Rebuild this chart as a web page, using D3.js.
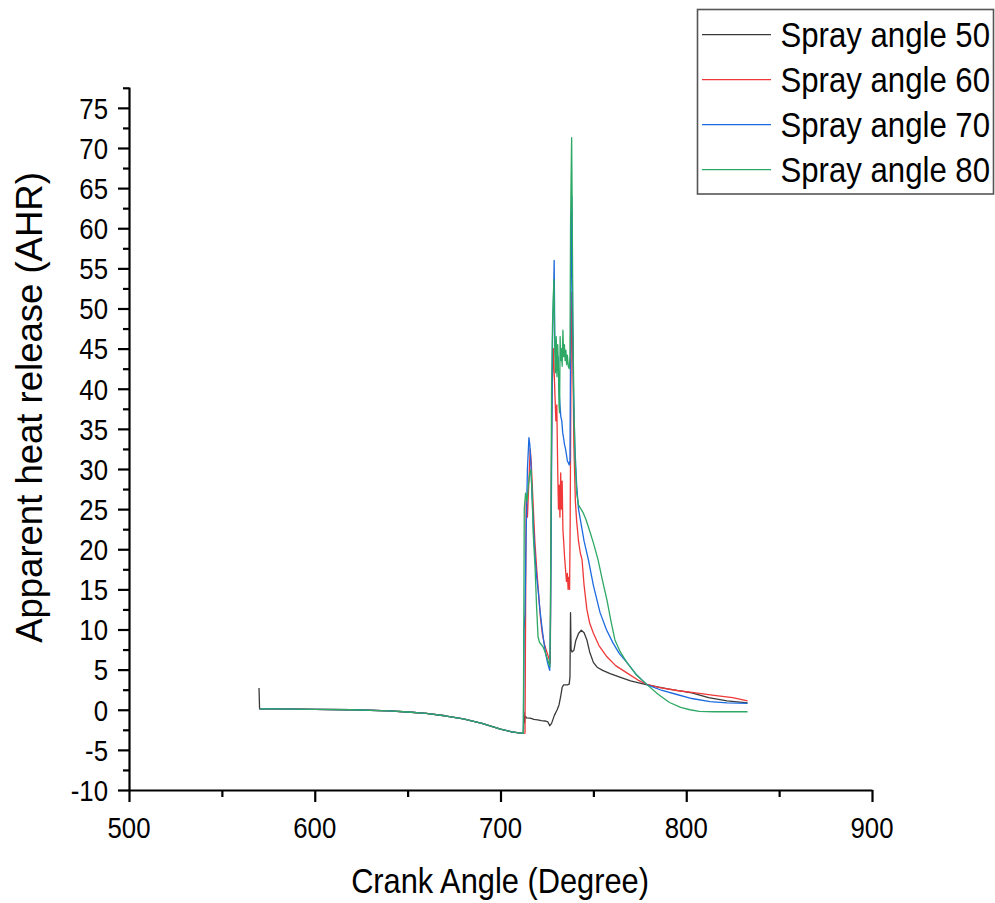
<!DOCTYPE html>
<html>
<head>
<meta charset="utf-8">
<script src="https://cdn.jsdelivr.net/npm/d3@7"></script>
<style>
  html, body { margin: 0; padding: 0; background: #fff; }
  svg { display: block; font-family: "Liberation Sans", Arial, sans-serif; }
</style>
</head>
<body>
<svg id="chart" width="995" height="903"></svg>
<script>
// ---------------- DATA ----------------
const seriesNames = ["Spray angle 50", "Spray angle 60", "Spray angle 70", "Spray angle 80"];
const xTickValues = [500, 600, 700, 800, 900];
const xMinorTicks = [550, 650, 750, 850];
const yTickValues = [-10, -5, 0, 5, 10, 15, 20, 25, 30, 35, 40, 45, 50, 55, 60, 65, 70, 75];
const yMinorTicks = [-7.5, -2.5, 2.5, 7.5, 12.5, 17.5, 22.5, 27.5, 32.5, 37.5, 42.5, 47.5, 52.5, 57.5, 62.5, 67.5, 72.5, 77.5];

// [crank angle, AHR]
const spray50 = [
  [570, 2.7], [570.3, 0.1], [580, 0.1], [600, 0.05], [620, 0.0], [640, -0.15], [650, -0.28],
  [660, -0.45], [670, -0.75], [680, -1.15], [690, -1.7], [700, -2.4], [706, -2.75], [711, -2.9],
  [712.3, -2.95], [712.6, -0.3], [712.9, -1.6], [713.3, -0.8], [714, -1.0], [716, -1.05], [718, -1.2],
  [720, -1.25], [722, -1.35], [724, -1.4], [725.5, -1.5], [726.5, -2.0], [727.5, -1.7], [729, -0.7],
  [730.5, 0.0], [731.5, 0.6], [732.5, 1.8], [733.2, 2.8], [734, 3.1], [736, 3.1], [737, 3.2],
  [737.4, 4.1], [737.7, 12.1], [738, 7.5], [738.5, 7.2], [739.5, 7.4], [740.5, 8.6], [742, 9.5],
  [743.5, 9.9], [745, 9.6], [746.5, 8.7], [748, 7.2], [750, 5.9], [752, 5.3], [755, 4.9], [759, 4.5],
  [765, 4.0], [770, 3.6], [779, 3.1], [790, 2.6], [803, 2.1], [812, 1.5], [822, 1.1], [833, 0.85]
];
const spray60 = [
  [570.3, 0.1], [580, 0.1], [600, 0.05], [620, 0.0], [640, -0.15], [650, -0.28],
  [660, -0.45], [670, -0.75], [680, -1.15], [690, -1.7], [700, -2.4], [706, -2.75], [711, -2.9],
  [712.3, -2.95], [713.2, -2.9], [713.8, 26.5], [714.5, 24], [715.2, 28], [716, 32.5], [716.5, 31],
  [717.5, 26], [718.5, 21], [719.5, 17.5], [720.5, 14.5], [721.5, 11.5], [722.5, 9.5], [723.5, 8.3],
  [724.5, 7.5], [725.5, 6.8], [726.2, 6.3], [726.8, 5.8], [727.3, 28], [727.8, 40], [728.5, 45],
  [729.2, 40], [729.8, 36], [730.3, 38], [730.8, 30], [731.2, 25], [731.6, 28], [732, 24],
  [732.4, 29.5], [732.8, 25], [733.2, 28.5], [733.6, 22.5], [734, 21], [734.5, 19], [735, 17.5],
  [735.5, 16], [736, 17], [736.4, 15], [736.8, 16.5], [737.2, 15], [737.5, 23], [737.9, 40],
  [738.4, 52], [738.9, 45], [739.5, 33], [740.3, 26], [741, 23.5], [742, 21], [743, 19.5],
  [743.9, 18.7], [745, 15.5], [746.5, 12.5], [748, 10.8], [749.9, 9.6], [753, 8.0], [757.3, 6.6],
  [762, 5.5], [768, 4.6], [774, 3.7], [779, 3.15], [785, 2.8], [795, 2.4], [805, 2.1], [815, 1.8],
  [825, 1.5], [833, 1.1]
];
const spray70 = [
  [570.3, 0.1], [580, 0.1], [600, 0.05], [620, 0.0], [640, -0.15], [650, -0.28],
  [660, -0.45], [670, -0.75], [680, -1.15], [690, -1.7], [700, -2.4], [706, -2.75], [711, -2.9],
  [712.3, -2.95], [712.7, 10], [713.2, 12], [713.8, 22], [714.5, 30], [715.3, 33.9], [715.8, 33],
  [716.3, 31], [717, 26.5], [717.8, 22.5], [718.6, 19], [719.5, 16.5], [720.3, 14.8], [721.2, 12.5],
  [722.3, 10.3], [723.3, 8.5], [724.3, 7], [725.2, 6], [726, 5.3], [726.5, 4.9], [727, 12],
  [727.5, 30], [728, 46], [728.6, 52], [728.9, 56], [729.2, 47], [729.6, 44], [730, 46],
  [730.5, 42.5], [731, 44], [731.5, 40], [732, 38], [732.5, 36.5], [733, 36], [733.5, 34.5],
  [734, 33.8], [734.5, 33], [735, 32.5], [735.5, 31.8], [736, 31], [736.5, 30.8], [737, 30.5],
  [737.4, 31], [737.7, 45], [738.1, 58], [738.4, 64], [738.8, 50], [739.3, 40], [740, 33],
  [741, 28], [742, 25], [743.5, 23], [745, 21], [747.3, 18.7], [750, 15.5], [753.6, 12.1],
  [757, 10], [760.6, 8.3], [764, 7], [768, 5.9], [773, 4.4], [779, 3.1], [787, 2.4], [795, 1.9],
  [803, 1.4], [812.8, 1.0], [822, 0.85], [833, 0.8]
];
const spray80 = [
  [570.3, 0.1], [580, 0.1], [600, 0.05], [620, 0.0], [640, -0.15], [650, -0.28],
  [660, -0.45], [670, -0.75], [680, -1.15], [690, -1.7], [700, -2.4], [706, -2.75], [711, -2.9],
  [712.3, -2.95], [712.8, 25], [713.5, 27], [714.3, 26], [715, 28], [715.8, 29.5], [716.4, 29.9],
  [717, 27], [717.6, 22], [718.6, 17.8], [719.4, 13], [720.2, 9.1], [721, 8.4], [722, 8.1],
  [723, 7.8], [724, 7.2], [725, 6.5], [726, 5.8], [726.6, 5.4], [727.1, 20], [727.5, 40],
  [728, 48], [728.5, 52], [728.8, 53.6], [729.2, 45], [729.6, 42], [730, 46.5], [730.4, 41.5],
  [730.8, 45.5], [731.2, 42.3], [731.5, 38], [731.8, 37], [732.1, 46.5], [732.4, 43.5], [732.8, 45],
  [733.2, 42.8], [733.6, 47.3], [734, 44], [734.4, 45.5], [734.8, 43.5], [735.2, 44.8], [735.6, 43],
  [736, 44.2], [736.5, 42.8], [737, 42.5], [737.4, 44], [737.7, 60], [738, 66], [738.3, 71.3],
  [738.6, 62], [739, 48], [739.5, 38], [740.2, 31], [741, 27], [742, 25.5], [744.4, 24.6],
  [746, 23.7], [748, 22.3], [750, 20.8], [752.5, 18.7], [755, 16], [757.3, 13.7], [759.5, 11],
  [761.6, 8.7], [764.5, 7.2], [768, 5.9], [773, 4.4], [779, 3.1], [785, 1.9], [791, 0.9],
  [797, 0.3], [802, 0.0], [807, -0.2], [815, -0.25], [825, -0.25], [833, -0.25]
];
const seriesData = [spray50, spray60, spray70, spray80];
const seriesColors = ["#3a3a3a", "#f03838", "#1c6ae0", "#2ea865"];

// ---------------- LAYOUT ----------------
const svg = d3.select("#chart");
const x = d3.scaleLinear().domain([500, 900]).range([129, 872]);
const y = d3.scaleLinear().domain([-10, 77.6]).range([790, 87]);

// lines
const line = d3.line().x(d => x(d[0])).y(d => y(d[1]));
svg.append("g").selectAll("path")
  .data(seriesData)
  .join("path")
  .attr("d", line)
  .attr("fill", "none")
  .attr("stroke", (d, i) => seriesColors[i])
  .attr("stroke-width", 1.3)
  .attr("stroke-linejoin", "round");

// axes
const yAxisG = svg.append("g").attr("transform", "translate(129,0)");
yAxisG.call(d3.axisLeft(y).tickValues(yTickValues).tickSize(11).tickSizeOuter(0).tickFormat(""));
const yMinorG = svg.append("g").attr("transform", "translate(129,0)");
yMinorG.call(d3.axisLeft(y).tickValues(yMinorTicks).tickSize(6).tickSizeOuter(0).tickFormat(""));
yMinorG.select(".domain").remove();

const xAxisG = svg.append("g").attr("transform", "translate(0,790)");
xAxisG.call(d3.axisBottom(x).tickValues(xTickValues).tickSize(12).tickSizeOuter(0).tickFormat(""));
const xMinorG = svg.append("g").attr("transform", "translate(0,790)");
xMinorG.call(d3.axisBottom(x).tickValues(xMinorTicks).tickSize(7).tickSizeOuter(0).tickFormat(""));
xMinorG.select(".domain").remove();

svg.selectAll(".domain, .tick line").attr("stroke", "#000").attr("stroke-width", 2.2);

// tick labels
const tickFont = 30, tickSX = 0.86;
svg.append("g").selectAll("text").data(yTickValues).join("text")
  .attr("transform", d => `translate(108,${y(d) + 10.8}) scale(${tickSX},1)`)
  .attr("text-anchor", "end")
  .attr("font-size", tickFont)
  .attr("fill", "#000")
  .text(d => d);
svg.append("g").selectAll("text").data(xTickValues).join("text")
  .attr("transform", d => `translate(${x(d)},838) scale(${tickSX},1)`)
  .attr("text-anchor", "middle")
  .attr("font-size", tickFont)
  .attr("fill", "#000")
  .text(d => d);

// axis titles
svg.append("text")
  .attr("transform", "translate(500,893) scale(0.88,1)")
  .attr("text-anchor", "middle")
  .attr("font-size", 35)
  .attr("fill", "#000")
  .text("Crank Angle (Degree)");
svg.append("text")
  .attr("transform", "translate(42,407.5) rotate(-90)")
  .attr("text-anchor", "middle")
  .attr("font-size", 36.5)
  .attr("fill", "#000")
  .text("Apparent heat release (AHR)");

// legend
const lg = svg.append("g");
lg.append("rect")
  .attr("x", 697.5).attr("y", 9.5).attr("width", 296).attr("height", 184.5)
  .attr("fill", "#fff").attr("stroke", "#555").attr("stroke-width", 1.6);
const rows = lg.selectAll("g.row").data(seriesNames).join("g").attr("class", "row")
  .attr("transform", (d, i) => `translate(0,${34.7 + 45 * i})`);
rows.append("line")
  .attr("x1", 702).attr("x2", 771).attr("y1", 0).attr("y2", 0)
  .attr("stroke", (d, i) => seriesColors[i]).attr("stroke-width", 1.3);
rows.append("text")
  .attr("transform", "translate(780.5,12) scale(0.89,1)")
  .attr("font-size", 35)
  .attr("fill", "#000")
  .text(d => d);
</script>
</body>
</html>
